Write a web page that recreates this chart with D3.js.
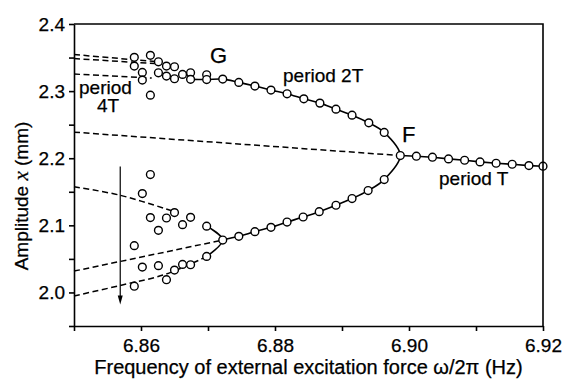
<!DOCTYPE html>
<html lang="en">
<head>
  <meta charset="UTF-8" />
  <title>Amplitude vs excitation frequency</title>
  <script src="https://d3js.org/d3.v7.min.js"></script>
  <style>
    body {
      margin: 0;
      padding: 0;
      background: #fff;
    }
    svg {
      display: block;
      font-family: "Liberation Sans", Arial, sans-serif;
    }
    .axis path, .axis line {
      stroke: #000;
      stroke-width: 1.6px;
    }
    .axis text {
      font-size: 19px;
      fill: #000;
      stroke: #000;
      stroke-width: 0.25px;
    }
    .solid {
      fill: none;
      stroke: #000;
      stroke-width: 1.6px;
    }
    .dashed {
      fill: none;
      stroke: #000;
      stroke-width: 1.5px;
      stroke-dasharray: 6 3.5;
    }
    .pt {
      fill: #fff;
      stroke: #000;
      stroke-width: 1.4px;
    }
    .lbl {
      font-size: 18px;
      fill: #000;
      stroke: #000;
      stroke-width: 0.25px;
    }
  </style>
</head>
<body>
  <svg width="563" height="380"></svg>

  <script>
    // frequency (Hz) and amplitude (mm) of the measured points
    const periodT_f = [6.8987, 6.9011, 6.9035, 6.9059, 6.9083, 6.9106, 6.9130, 6.9154, 6.9179, 6.9200];
    const periodT_a = [2.2040, 2.2030, 2.2015, 2.1990, 2.1970, 2.1945, 2.1925, 2.1910, 2.1890, 2.1881];

    const upper2T_f = [6.8674, 6.8698, 6.8722, 6.8746, 6.8770, 6.8794, 6.8818, 6.8843, 6.8867, 6.8891, 6.8915, 6.8940, 6.8963];
    const upper2T_a = [2.3175, 2.3172, 2.3179, 2.3130, 2.3075, 2.3015, 2.2960, 2.2885, 2.2821, 2.2731, 2.2642, 2.2527, 2.2384];

    const lower2T_f = [6.8722, 6.8746, 6.8770, 6.8794, 6.8818, 6.8842, 6.8866, 6.8891, 6.8915, 6.8939, 6.8963];
    const lower2T_a = [2.0781, 2.0836, 2.0906, 2.0970, 2.1049, 2.1124, 2.1204, 2.1299, 2.1399, 2.1518, 2.1682];

    const upper4T_f = [6.8590, 6.8614, 6.8590, 6.8602, 6.8602, 6.8626, 6.8638, 6.8650, 6.8626, 6.8638, 6.8650, 6.8662, 6.8674, 6.8698, 6.8614];
    const upper4T_a = [2.3503, 2.3533, 2.3373, 2.3279, 2.3164, 2.3437, 2.3373, 2.3363, 2.3273, 2.3224, 2.3184, 2.3249, 2.3273, 2.3243, 2.2940];

    const lower4T_f = [6.8614, 6.8602, 6.8650, 6.8614, 6.8638, 6.8674, 6.8662, 6.8626, 6.8698, 6.8590,
                       6.8698, 6.8602, 6.8626, 6.8650, 6.8662, 6.8674, 6.8638, 6.8590];
    const lower4T_a = [2.1757, 2.1473, 2.1190, 2.1115, 2.1109, 2.1119, 2.1010, 2.0925, 2.0988, 2.0697,
                       2.0537, 2.0378, 2.0399, 2.0333, 2.0418, 2.0413, 2.0190, 2.0093];

    // bifurcation points
    const pointF = [6.8987, 2.2040];
    const pointJ = [6.8722, 2.0781];

    // unstable branches (dashed)
    const dash4T_a = [[6.8500, 2.3545], [6.8621, 2.3440]];
    const dash4T_b = [[6.8500, 2.3485], [6.8621, 2.3410]];
    const dash4T_c = [[6.8500, 2.3254], [6.8616, 2.3194]];
    const dashT = [[6.8500, 2.2388], pointF];
    const dashLow_a = [[6.8500, 2.1575], [6.8569, 2.1448], [6.8646, 2.1216]];
    const dashLow_b = [[6.8500, 2.0318], pointJ];
    const dashLow_c = [[6.8500, 1.9948], [6.8569, 2.0104], [6.8636, 2.0269], [6.8697, 2.0530]];

    // sweep direction arrow
    const arrowF = 6.8569;
    const arrowA = [2.1875, 1.9820];

    const xTicks = [6.85, 6.86, 6.87, 6.88, 6.89, 6.90, 6.91, 6.92];
    const yTicks = [1.95, 2.0, 2.05, 2.1, 2.15, 2.2, 2.25, 2.3, 2.35, 2.4];

    const svg = d3.select("svg");
    const mLeft = 74, mRight = 543, mTop = 24, mBottom = 326;

    const x = d3.scaleLinear().domain([6.85, 6.92]).range([mLeft, mRight]);
    const y = d3.scaleLinear().domain([1.95, 2.4]).range([mBottom, mTop]);

    const zip = (fs, as) => fs.map((f, i) => [f, as[i]]);
    const line = d3.line().x((d) => x(d[0])).y((d) => y(d[1]));
    const smooth = d3.line().x((d) => x(d[0])).y((d) => y(d[1])).curve(d3.curveCatmullRom.alpha(0.5));

    // dashed branches
    [dash4T_a, dash4T_b, dash4T_c, dashT, dashLow_b].forEach((d) => {
      svg.append("path").attr("class", "dashed").attr("d", line(d));
    });
    [dashLow_a, dashLow_c].forEach((d) => {
      svg.append("path").attr("class", "dashed").attr("d", smooth(d));
    });

    // period-2T loop through F
    const up = zip(upper2T_f, upper2T_a);
    const lo = zip(lower2T_f, lower2T_a);
    svg.append("path").attr("class", "solid")
      .attr("d", smooth([...up, pointF, ...lo.slice().reverse()]));

    // period-T line
    svg.append("path").attr("class", "solid").attr("d", line(zip(periodT_f, periodT_a)));

    // fork at the lower junction
    svg.append("path").attr("class", "solid")
      .attr("d", smooth([[lower4T_f[8], lower4T_a[8]], pointJ, [lower4T_f[10], lower4T_a[10]]]));

    // markers
    const pts = [
      ...zip(upper4T_f, upper4T_a),
      ...zip(lower4T_f, lower4T_a),
      ...up, ...lo,
      ...zip(periodT_f, periodT_a)
    ];
    svg.selectAll(".pt")
      .data(pts)
      .enter()
      .append("circle")
      .attr("class", "pt")
      .attr("cx", (d) => x(d[0]))
      .attr("cy", (d) => y(d[1]))
      .attr("r", 3.9);

    // arrow
    const ax = x(arrowF), ay = y(arrowA[1]);
    svg.append("line")
      .attr("x1", ax).attr("x2", ax)
      .attr("y1", y(arrowA[0])).attr("y2", ay - 7)
      .attr("stroke", "#000").attr("stroke-width", 1.2);
    svg.append("path")
      .attr("d", `M${ax - 2.5},${ay - 9}L${ax + 2.5},${ay - 9}L${ax},${ay}Z`)
      .attr("fill", "#000");

    // axes
    svg.append("g")
      .attr("class", "axis")
      .attr("transform", `translate(0,${mBottom})`)
      .call(d3.axisBottom(x).tickValues(xTicks).tickSize(5).tickSizeOuter(0).tickPadding(8)
        .tickFormat((d) => [6.86, 6.88, 6.90, 6.92].some((v) => Math.abs(v - d) < 1e-6) ? d3.format(".2f")(d) : ""));

    svg.append("g")
      .attr("class", "axis")
      .attr("transform", `translate(${mLeft},0)`)
      .call(d3.axisLeft(y).tickValues(yTicks).tickSize(5).tickSizeOuter(0).tickPadding(4)
        .tickFormat((d) => Math.round(d * 100) % 10 === 0 ? d3.format(".1f")(d) : ""));

    // top and right frame
    svg.append("path")
      .attr("d", `M${mLeft},${mTop}H${mRight}V${mBottom}`)
      .attr("fill", "none").attr("stroke", "#000").attr("stroke-width", 1.6);

    // annotations
    const note = (t, px, py, size) => svg.append("text").attr("class", "lbl")
      .attr("x", px).attr("y", py).style("font-size", size + "px").text(t);
    note("G", 210, 63, 22);
    note("F", 402, 141.5, 22);
    note("period 2T", 283, 81.5, 19);
    note("period T", 439, 185, 19);
    note("period", 79, 94, 19);
    note("4T", 97, 112, 19);

    // axis titles
    svg.append("text").attr("class", "lbl")
      .attr("x", (mLeft + mRight) / 2).attr("y", 374)
      .attr("text-anchor", "middle")
      .style("font-size", "20px")
      .text("Frequency of external excitation force \u03c9/2\u03c0 (Hz)");

    const yl = svg.append("text").attr("class", "lbl")
      .attr("transform", "translate(28,196) rotate(-90)")
      .attr("text-anchor", "middle")
      .style("font-size", "19px");
    yl.append("tspan").text("Amplitude ");
    yl.append("tspan").style("font-family", "'Liberation Serif', serif").style("font-style", "italic").style("font-size", "21px").text("x");
    yl.append("tspan").text(" (mm)");
  </script>
</body>
</html>
